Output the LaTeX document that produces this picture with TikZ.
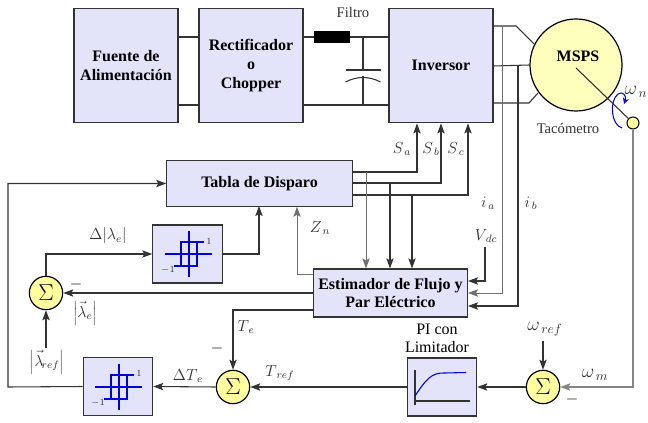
\documentclass[tikz,border=0pt]{standalone}
\usepackage{fontspec}
\setmainfont{Liberation Serif}
\usetikzlibrary{arrows.meta, calc}
\definecolor{blockfill}{rgb}{0.89,0.89,0.98}
\definecolor{sumfill}{rgb}{1.0,1.0,0.62}
\definecolor{motorfill}{rgb}{1.0,1.0,0.74}
\definecolor{wirecol}{gray}{0.2}
\tikzset{%
  block/.style = {rectangle, draw=wirecol, line width=0.9pt, fill=blockfill, inner sep=0pt, align=center,
                  font=\fontsize{12}{14}\selectfont\bfseries},
  sumnode/.style = {circle, draw=black, line width=0.9pt, fill=sumfill, minimum size=25pt, inner sep=0pt,
                    font=\LARGE},
  wire/.style = {draw=wirecol, line width=0.8pt},
  thinwire/.style = {draw=wirecol!70, line width=0.7pt},
  path/.style = {wire, ->},
  hyst/.style = {draw=blue!85!black, line width=0.8pt},
  tag/.style = {inner sep=0pt, font=\fontsize{12}{14}\selectfont, text=black!80},
  bigtag/.style = {tag, font=\fontsize{14}{16}\selectfont},
  minus/.style = {inner sep=0pt, font=\large}
  }
\newcommand{\hystmark}[1]{%
  \draw[hyst] ($(#1)+(-24,0)$) -- ($(#1)+(23,0)$)
              ($(#1)+(0,-23)$) -- ($(#1)+(0,23)$)
              ($(#1)+(-15,12)$) -- ($(#1)+(8,12)$) -- ($(#1)+(8,-12)$) -- ($(#1)+(-8,-12)$)
              -- ($(#1)+(-8,12)$) ($(#1)+(8,-12)$) -- ($(#1)+(15,-12)$);
}
\begin{document}
\begin{tikzpicture}[x=0.75pt, y=-0.75pt, >={Stealth[length=7.5pt,width=5.5pt,inset=1.5pt]}]
    \useasboundingbox (0,0) rectangle (648,423);

    % power stage
    \node (fuente)  [block, minimum width=78pt, minimum height=86pt] at (126,65.5) {Fuente de\\Alimentación};
    \node (rect)    [block, minimum width=78pt, minimum height=86pt] at (251,65.5) {Rectificador\\o\\Chopper};
    \node (inv)     [block, minimum width=78pt, minimum height=86pt] at (441,65.5) {Inversor};
    \node (motor)   [circle, draw=black, line width=0.9pt, fill=motorfill, minimum size=69pt, inner sep=0pt] at (576,65) {};
    \node (mspsL)   [inner sep=0pt, font=\fontsize{12}{14}\selectfont\bfseries] at (578,56) {MSPS};
    \node (taco)    [circle, draw=black, line width=0.8pt, fill=sumfill, minimum size=9pt, inner sep=0pt] at (633,123) {};
    \node (choke)   [rectangle, fill=black, minimum width=27pt, minimum height=9.5pt, inner sep=0pt] at (332,37) {};
    \node (filtroL) [tag, font=\fontsize{11}{13}\selectfont] at (353,12) {Filtro};
    \node (tacoL)   [tag, font=\fontsize{11}{13}\selectfont] at (568,128) {Tacómetro};

    % control blocks
    \node (tabla)   [block, minimum width=139pt, minimum height=34pt] at (259.5,183.5) {Tabla de Disparo};
    \node (estim)   [block, minimum width=116pt, minimum height=36pt] at (390.5,293) {Estimador de Flujo y\\Par Eléctrico};
    \node (hystA)   [block, minimum width=52pt, minimum height=43.5pt] at (187.5,254) {};
    \node (hystB)   [block, minimum width=52pt, minimum height=43pt] at (118,386.5) {};
    \node (pi)      [block, minimum width=52pt, minimum height=43.5pt] at (442,387) {};
    \node (sumA)    [sumnode] at (46,293) {$\Sigma$};
    \node (sumB)    [sumnode] at (233,387) {$\Sigma$};
    \node (sumC)    [sumnode] at (543,387) {$\Sigma$};
    \node (piL)     [tag, align=center, text=black, font=\fontsize{12}{13.5}\selectfont] at (437,338) {PI con\\Limitador};

    \coordinate (sa)   at (417,172);
    \coordinate (sb)   at (441,183);
    \coordinate (sc)   at (468,195);
    \coordinate (ta)   at (366,172);
    \coordinate (tb)   at (390,183);
    \coordinate (tc)   at (412,195);
    \coordinate (ia)   at (502,26);
    \coordinate (ib)   at (518,66);
    \coordinate (iaEnd) at (468,293);
    \coordinate (ibEnd) at (468,306);
    \coordinate (vdc)  at (485,247);
    \coordinate (vdcEnd) at (468,281);
    \coordinate (lamRef) at (46,348);
    \coordinate (wRef) at (543,341);
    \coordinate (zn)   at (297,274);
    \coordinate (te)   at (233,310);
    \coordinate (fb)   at (8,387);
    \coordinate (capTop) at (363,37);
    \coordinate (capBot) at (363,105);
    \coordinate (capA) at (363,70);
    \coordinate (capB) at (363,76);
    \coordinate (hystAc) at (189,254);
    \coordinate (hystBc) at (119,387);

    % dc link
    \path[wire] (fuente.east |- capTop) -- (rect.west |- capTop)
                (fuente.east |- capBot) -- (rect.west |- capBot)
                (rect.east |- capTop) -- (choke.west)
                (choke.east) -- (inv.west |- capTop)
                (rect.east |- capBot) -- (inv.west |- capBot)
                (capTop) -- (capA)
                (capB) -- (capBot)
                ($(capA)+(-17.5,0)$) -- ($(capA)+(17.5,0)$);
    \draw[wire] ($(capB)+(-17.5,6)$) .. controls ($(capB)+(-6,0)$) and ($(capB)+(6,0)$) .. ($(capB)+(17.5,6)$);

    % motor phases
    \path[wire] (inv.east |- ia) -- (516,26) -- (534,44)
                (inv.east |- ib) -- (motor.west)
                (inv.east |- 0,103) -- (529,103) -- (538,93);
    \path[wire] (576,68) -- (taco);
    \draw[blue, line width=0.8pt, ->, >={Stealth[length=4.5pt,width=4.5pt]}] (622,128) .. controls (611,125) and (609,101) .. (618,94)
        .. controls (622,91) and (627,95) .. (624,104);

    % gate signals
    \path[path] (sa -| tabla.east) -- (sa) -- (sa |- inv.south) ;
    \path[path] (sb -| tabla.east) -- (sb) -- (sb |- inv.south) ;
    \path[path] (sc -| tabla.east) -- (sc) -- (sc |- inv.south) ;
    \path[path, thinwire] (ta) -- (ta |- estim.north);
    \path[path] (tb) -- (tb |- estim.north);
    \path[path] (tc) -- (tc |- estim.north);

    % measurements
    \path[path, thinwire] (ia) -- (ia |- iaEnd) -- (iaEnd);
    \path[path] (ib) -- (ib |- ibEnd) -- (ibEnd);
    \path[path] (vdc) -- (vdc |- vdcEnd) -- (vdcEnd);

    % control loop
    \path[path, thinwire] (zn -| estim.west) -- (zn) -- (zn |- tabla.south);
    \path[path] (hystA.east) -- (259,254) -- (259,206);
    \path[path] (sumA.north) |- (hystA.west);
    \path[path] (estim.west |- sumA) -- (sumA.east);
    \path[path] (lamRef) -- (sumA.south);
    \path[path] (te -| estim.west) -- (te) -- (sumB.north);
    \path[path] (pi.west) -- (sumB.east);
    \path[path] (sumB.west) -- (hystB.east);
    \path[path] (hystB.west) -- (fb) -- (fb |- tabla.west) -- (tabla.west);
    \path[path] (sumC.west) -- (pi.east);
    \path[path] (wRef) -- (sumC.north);
    \path[path, draw=wirecol!60] (taco.south) -- (633,387) -- (sumC.east);

    % block contents
    \hystmark{hystAc}
    \hystmark{hystBc}
    \node (oneA)  [tag, font=\scriptsize] at (209,241) {1};
    \node (negA)  [tag, font=\scriptsize] at (168,270) {$-1$};
    \node (oneB)  [tag, font=\scriptsize] at (139,373) {1};
    \node (negB)  [tag, font=\scriptsize] at (98,403) {$-1$};
    \path[wire, line width=1pt] (415,370) -- (415,405)
                                (414,401) -- (470,401);
    \draw[hyst] (415,396) .. controls (425,381) and (431,372) .. (445,373) -- (466,372.5);

    % labels
    \node (saL)   [tag] at (402,149) {$S_{\,a}$};
    \node (sbL)   [tag] at (431,149) {$S_{\,b}$};
    \node (scL)   [tag] at (456,149) {$S_{\,c}$};
    \node (iaL)   [tag] at (488,203) {$i_{\,a}$};
    \node (ibL)   [tag] at (531,203) {$i_{\,b}$};
    \node (vdcL)  [tag] at (486,236) {$V_{\,dc}$};
    \node (znL)   [tag] at (320,228) {$Z_{\,n}$};
    \node (wnL)   [bigtag] at (636,92) {$\omega_{\,n}$};
    \node (wmL)   [bigtag] at (595,375) {$\omega_{\,m}$};
    \node (wrefL) [bigtag] at (545,329) {$\omega_{\,ref}$};
    \node (dlamL) [tag] at (108,236) {$\Delta\!\left|\lambda_{e}\right|$};
    \node (lamL)  [tag] at (85,313) {$\left|\vec{\lambda}_{e}\right|$};
    \node (lrefL) [tag] at (47,362) {$\left|\vec{\lambda}_{\!ref}\right|$};
    \node (teL)   [tag] at (246,327) {$T_{\,e}$};
    \node (dteL)  [tag] at (188,376) {$\Delta T_{\,e}$};
    \node (trefL) [tag] at (280,373) {$T_{\,ref}$};
    \node (minA)  [minus] at (76,285) {$-$};
    \node (minB)  [minus] at (217,348) {$-$};
    \node (minC)  [minus] at (572,399) {$-$};
\end{tikzpicture}
\end{document}
